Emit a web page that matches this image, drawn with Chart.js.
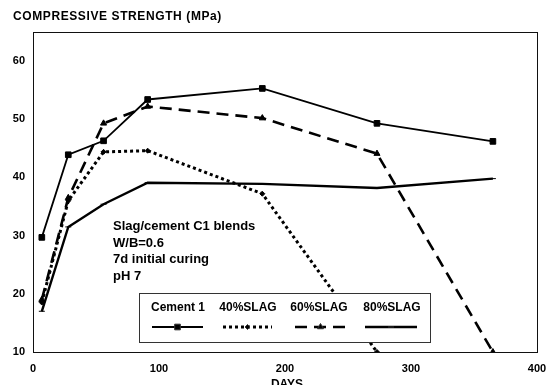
<!DOCTYPE html>
<html>
<head>
<meta charset="utf-8">
<script src="https://cdn.jsdelivr.net/npm/chart.js@4"></script>
<style>
  html, body { margin: 0; padding: 0; background: #fff; }
  #wrap { width: 549px; height: 385px; position: relative; }
</style>
</head>
<body>
<div id="wrap"><canvas id="c" width="549" height="385"></canvas></div>
<script>
// ---- data ----
const days = [7, 28, 56, 91, 182, 273, 365];
const seriesNames = ["Cement 1", "40%SLAG", "60%SLAG", "80%SLAG"];
const cement1 = [29.7, 43.9, 46.3, 53.4, 55.3, 49.3, 46.2];
const slag40 = [18.5, 36.0, 44.4, 44.6, 37.2, 10.0, null];
const slag60 = [19.0, 36.5, 49.3, 52.2, 50.2, 44.1, 10.0];
const slag80 = [17.0, 31.5, 35.4, 39.1, 38.9, 38.2, 39.8];
const xTicks = [0, 100, 200, 300, 400];
const yTicks = [10, 20, 30, 40, 50, 60];
const titleText = "COMPRESSIVE STRENGTH (MPa)";
const xTitle = "DAYS";
const noteLines = ["Slag/cement C1 blends", "W/B=0.6", "7d initial curing", "pH 7"];

const FONT = "'Liberation Sans', Arial, sans-serif";

function pts(vals) {
  const out = [];
  vals.forEach((v, i) => { if (v !== null) out.push({ x: days[i], y: v }); });
  return out;
}

const datasets = [
  { label: seriesNames[0], data: pts(cement1), borderColor: '#000', backgroundColor: '#000',
    borderWidth: 1.8, pointStyle: 'rect', pointRadius: 4, borderDash: [] },
  { label: seriesNames[1], data: pts(slag40), borderColor: '#000', backgroundColor: '#000',
    borderWidth: 3, pointStyle: 'rectRot', pointRadius: 2.5, borderDash: [3, 3] },
  { label: seriesNames[2], data: pts(slag60), borderColor: '#000', backgroundColor: '#000',
    borderWidth: 2.6, pointStyle: 'triangle', pointRadius: 3.5, borderDash: [12, 7] },
  { label: seriesNames[3], data: pts(slag80), borderColor: '#000', backgroundColor: '#000',
    borderWidth: 2.4, pointStyle: 'line', pointRadius: 3, borderDash: [] }
];
datasets.forEach(d => { d.tension = 0; d.fill = false; d.pointBorderWidth = 1; d.pointBorderColor = '#000'; d.pointBackgroundColor = '#000'; });

const decor = {
  id: 'decor',
  beforeDraw(chart) {
    const ctx = chart.ctx;
    ctx.save();
    ctx.fillStyle = '#fff';
    ctx.fillRect(0, 0, chart.width, chart.height);
    ctx.restore();
  },
  afterDatasetsDraw(chart) {
    const ctx = chart.ctx;
    const a = chart.chartArea;
    ctx.save();
    // plot box
    ctx.strokeStyle = '#111';
    ctx.lineWidth = 1;
    ctx.strokeRect(Math.round(a.left) + 0.5, Math.round(a.top) + 0.5,
                   Math.round(a.right - a.left), Math.round(a.bottom - a.top));
    // title
    ctx.fillStyle = '#000';
    ctx.font = "bold 12px " + FONT;
    ctx.textBaseline = 'middle';
    ctx.textAlign = 'left';
    try { ctx.letterSpacing = '0.6px'; } catch (e) {}
    ctx.fillText(titleText, 13, 17);
    try { ctx.letterSpacing = '0px'; } catch (e) {}
    // x title
    const xs = chart.scales.x;
    ctx.textAlign = 'center';
    ctx.textBaseline = 'top';
    ctx.font = "bold 12px " + FONT;
    ctx.fillText(xTitle, xs.getPixelForValue(200) + 2, 379);
    // note text
    ctx.textAlign = 'left';
    ctx.textBaseline = 'alphabetic';
    ctx.font = "bold 13px " + FONT;
    noteLines.forEach((t, i) => ctx.fillText(t, 113, 230 + i * 16.5));
    // legend
    const lx = 139, ly = 293, lw = 291, lh = 49;
    ctx.fillStyle = '#fff';
    ctx.fillRect(lx, ly, lw, lh);
    ctx.strokeStyle = '#333';
    ctx.strokeRect(lx + 0.5, ly + 0.5, lw, lh);
    const cx = [178, 248, 319, 392];
    const seg = [[152, 203], [223, 272], [295, 346], [365, 417]];
    ctx.font = "bold 12px " + FONT;
    ctx.textAlign = 'center';
    ctx.textBaseline = 'middle';
    chart.data.datasets.forEach((d, i) => {
      ctx.fillStyle = '#000';
      ctx.fillText(d.label, cx[i], 308);
      ctx.save();
      ctx.strokeStyle = d.borderColor;
      ctx.lineWidth = d.borderWidth;
      ctx.setLineDash(d.borderDash || []);
      ctx.beginPath();
      ctx.moveTo(seg[i][0], 327);
      ctx.lineTo(seg[i][1], 327);
      ctx.stroke();
      ctx.restore();
      Chart.helpers.drawPoint(ctx, {
        pointStyle: d.pointStyle, radius: d.pointRadius, borderWidth: 1, rotation: 0
      }, (seg[i][0] + seg[i][1]) / 2, 327);
    });
    ctx.restore();
  }
};

new Chart(document.getElementById('c'), {
  type: 'line',
  data: { datasets },
  options: {
    responsive: false,
    animation: false,
    devicePixelRatio: 1,
    layout: { padding: { top: 32, right: 12, left: 0, bottom: 0 } },
    plugins: { legend: { display: false }, tooltip: { enabled: false }, title: { display: false } },
    scales: {
      x: {
        type: 'linear', min: 0, max: 400,
        afterBuildTicks: s => { s.ticks = xTicks.map(v => ({ value: v })); },
        afterFit: s => { s.height = 33; s.paddingRight = 0; },
        grid: { display: false, drawTicks: false },
        border: { display: false },
        ticks: { color: '#000', font: { family: FONT, size: 11, weight: 'bold' }, padding: 10, maxRotation: 0 }
      },
      y: {
        type: 'linear', min: 10, max: 65,
        afterBuildTicks: s => { s.ticks = yTicks.map(v => ({ value: v })); },
        afterFit: s => { s.width = 33; },
        grid: { display: false, drawTicks: false },
        border: { display: false },
        ticks: { color: '#000', font: { family: FONT, size: 11, weight: 'bold' }, padding: 8 }
      }
    }
  },
  plugins: [decor]
});
</script>
</body>
</html>
